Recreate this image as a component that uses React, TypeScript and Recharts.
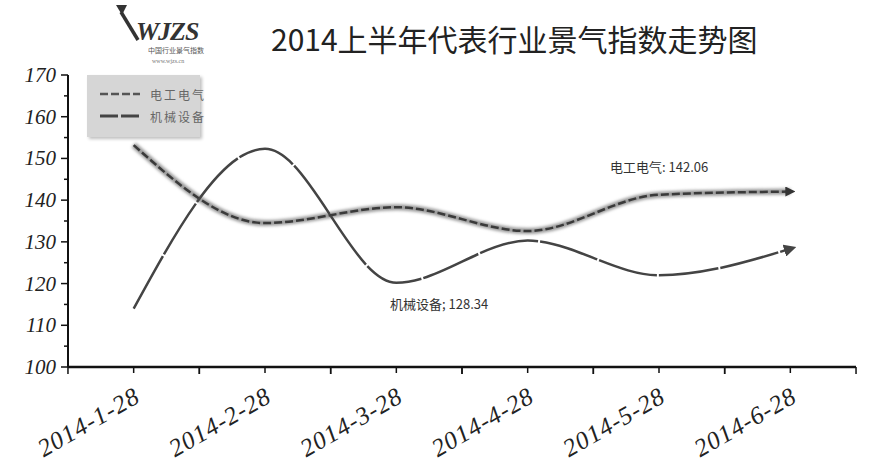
import React from 'react'
import { LineChart, Line, XAxis, YAxis } from 'recharts'

const categories = ['2014-1-28', '2014-2-28', '2014-3-28', '2014-4-28', '2014-5-28', '2014-6-28']
const dianGong = [153.2, 134.5, 138.3, 132.6, 141.3, 142.06]
const jiXie = [114, 152.3, 120.2, 130.3, 122, 128.34]
const yTicks = [100, 105, 110, 115, 120, 125, 130, 135, 140, 145, 150, 155, 160, 165, 170]

const title = '2014上半年代表行业景气指数走势图'
const seriesNames = ['电工电气', '机械设备']
const noteDian = '电工电气: 142.06'
const noteJi = '机械设备; 128.34'

const data = categories.map((c, i) => ({ date: c, dian: dianGong[i], ji: jiXie[i] }))

const serif = '"Liberation Serif", "DejaVu Serif", serif'
const cjk = '"Noto Sans CJK SC", "Noto Sans", sans-serif'

// half band width, used only to draw the extra tick marks at band edges
const HALF_BAND = 65.7

const XTick = (props: any) => {
  const { x, y, payload } = props
  return (
    <g>
      <line x1={x - HALF_BAND} y1={y - 8} x2={x - HALF_BAND} y2={y - 1} stroke="#111" strokeWidth={1.5} />
      <line x1={x + HALF_BAND} y1={y - 8} x2={x + HALF_BAND} y2={y - 1} stroke="#111" strokeWidth={1.5} />
      <text
        x={x + 8}
        y={y + 26}
        textAnchor="end"
        transform={`rotate(-30 ${x + 8} ${y + 26})`}
        fontFamily={serif}
        fontStyle="italic"
        fontSize={25}
        letterSpacing={1}
        fill="#222"
      >
        {payload.value}
      </text>
    </g>
  )
}

const YTick = (props: any) => {
  const { x, y, payload } = props
  const major = payload.value % 10 === 0
  return (
    <g>
      <line x1={x + (major ? 1 : 4)} y1={y} x2={x + 8} y2={y} stroke="#111" strokeWidth={1.5} />
      {major && (
        <text x={x - 4} y={y + 7} textAnchor="end" fontFamily={serif} fontStyle="italic" fontSize={21} fill="#222">
          {payload.value}
        </text>
      )}
    </g>
  )
}

export default function App() {
  return (
    <div style={{ position: 'absolute', left: 0, top: 0, width: 872, height: 472, background: '#fff', overflow: 'hidden' }}>
      <svg width={0} height={0} style={{ position: 'absolute' }}>
        <defs>
          <filter id="blurBand" x="-10%" y="-50%" width="120%" height="200%">
            <feGaussianBlur stdDeviation="1.6" />
          </filter>
          <marker id="arrowDark" viewBox="0 0 10 10" refX="5" refY="5" markerWidth="4" markerHeight="4" orient="auto" markerUnits="strokeWidth">
            <path d="M0,0 L10,5 L0,10 z" fill="#333" />
          </marker>
          <marker id="arrowJi" viewBox="0 0 10 10" refX="5" refY="5" markerWidth="5" markerHeight="5" orient="auto" markerUnits="strokeWidth">
            <path d="M0,0 L10,5 L0,10 z" fill="#444" />
          </marker>
        </defs>
      </svg>

      {/* logo */}
      <svg width={120} height={70} style={{ position: 'absolute', left: 112, top: 0 }}>
        <path d="M9,12 L26,40" stroke="#333" strokeWidth={3.5} fill="none" />
        <path d="M4,5 L15,5 L10,15 z" fill="#333" />
        <text x={24} y={40} fontFamily={serif} fontStyle="italic" fontWeight="bold" fontSize={26} fill="#333" letterSpacing={-1}>
          WJZS
        </text>
        <text x={36} y={53} fontFamily={cjk} fontSize={7} fill="#555">中国行业景气指数</text>
        <text x={40} y={63} fontFamily={serif} fontSize={6} fill="#777">www.wjzs.cn</text>
      </svg>

      {/* title */}
      <div style={{ position: 'absolute', left: 271, top: 16, fontFamily: cjk, fontSize: 30, color: '#222', whiteSpace: 'nowrap' }}>
        {title}
      </div>

      <LineChart width={872} height={472} data={data} margin={{ top: 75, right: 16, bottom: 0, left: 28 }}>
        <XAxis
          dataKey="date"
          scale="band"
          height={105}
          axisLine={{ stroke: '#111', strokeWidth: 2.5 }}
          tickLine={{ stroke: '#111', strokeWidth: 1.5 }}
          tick={<XTick />}
          interval={0}
        />
        <YAxis
          domain={[100, 170]}
          ticks={yTicks}
          width={40}
          interval={0}
          axisLine={{ stroke: '#111', strokeWidth: 2 }}
          tickLine={false}
          tick={<YTick />}
        />
        <Line
          dataKey="dian"
          type="monotone"
          stroke="#999"
          strokeWidth={6}
          filter="url(#blurBand)"
          dot={false}
          activeDot={false}
          isAnimationActive={false}
        />
        <Line
          dataKey="dian"
          type="monotone"
          stroke="#3a3a3a"
          strokeWidth={2.5}
          strokeDasharray="8 3"
          markerEnd="url(#arrowDark)"
          dot={false}
          activeDot={false}
          isAnimationActive={false}
        />
        <Line
          dataKey="ji"
          type="monotone"
          stroke="#444"
          strokeWidth={2.5}
          strokeDasharray="60 2"
          markerEnd="url(#arrowJi)"
          dot={false}
          activeDot={false}
          isAnimationActive={false}
        />
      </LineChart>

      {/* legend */}
      <div
        style={{
          position: 'absolute', left: 87, top: 75, width: 113, height: 62, background: '#d6d6d6',
          boxShadow: '2px 2px 3px rgba(0,0,0,0.25)',
        }}
      >
        {seriesNames.map((n, i) => (
          <div key={n} style={{ position: 'absolute', left: 13, top: 10 + i * 22, height: 18, display: 'flex', alignItems: 'center', whiteSpace: 'nowrap' }}>
            <svg width={40} height={10}>
              {i === 0 ? (
                <>
                  <line x1={0} y1={5} x2={40} y2={5} stroke="#999" strokeWidth={5} filter="url(#blurBand)" />
                  <line x1={0} y1={5} x2={40} y2={5} stroke="#555" strokeWidth={2.5} strokeDasharray="8 3" />
                </>
              ) : (
                <line x1={0} y1={5} x2={40} y2={5} stroke="#444" strokeWidth={3} strokeDasharray="18 3" />
              )}
            </svg>
            <span style={{ marginLeft: 10, fontFamily: cjk, fontSize: 12, color: '#666', letterSpacing: 2 }}>{n}</span>
          </div>
        ))}
      </div>

      {/* notes */}
      <div style={{ position: 'absolute', left: 610, top: 157, fontFamily: cjk, fontSize: 13, color: '#333', whiteSpace: 'nowrap' }}>
        {noteDian}
      </div>
      <div style={{ position: 'absolute', left: 390, top: 294, fontFamily: cjk, fontSize: 13, color: '#333', whiteSpace: 'nowrap' }}>
        {noteJi}
      </div>
    </div>
  )
}
